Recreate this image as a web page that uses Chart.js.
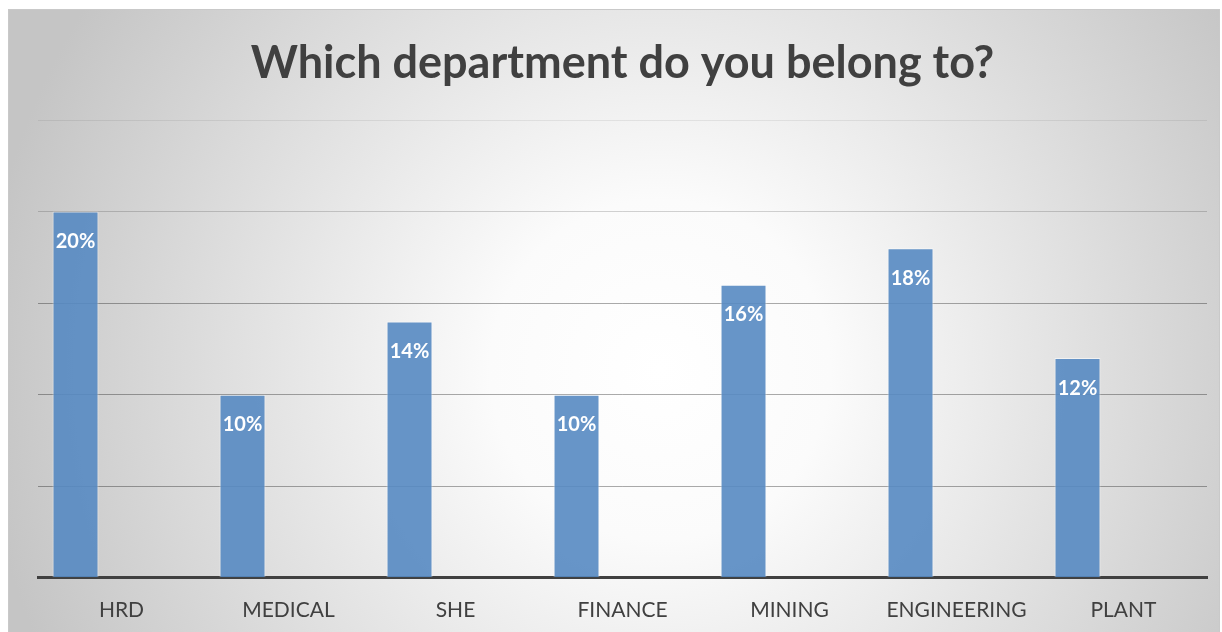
<!DOCTYPE html>
<html>
<head>
<meta charset="utf-8">
<title>Which department do you belong to?</title>
<script src="https://cdn.jsdelivr.net/npm/chart.js@4/dist/chart.umd.min.js"></script>
<style>
  html, body { margin: 0; padding: 0; background: #fff; }
  #wrap { width: 1222px; height: 632px; }
</style>
</head>
<body>
<div id="wrap"><canvas id="chart" width="1222" height="632"></canvas></div>
<script>
const categories = ['HRD', 'MEDICAL', 'SHE', 'FINANCE', 'MINING', 'ENGINEERING', 'PLANT'];
const shares = [20, 10, 14, 10, 16, 18, 12];
// two unused series slots, so bars sit left in each category group
const spareSeriesA = [];
const spareSeriesB = [];
const yTicks = [0, 5, 10, 15, 20, 25];

const textFont = 'Lato, "Open Sans", sans-serif';

const frameBackground = {
    id: 'frameBackground',
    beforeDraw(chart) {
        const ctx = chart.ctx;
        const w = chart.width;
        const h = chart.height;
        ctx.save();
        ctx.fillStyle = '#ffffff';
        ctx.fillRect(0, 0, w, h);
        const grad = ctx.createRadialGradient(660, 370, 0, 660, 370, 680);
        grad.addColorStop(0, '#ffffff');
        grad.addColorStop(0.25, '#fbfbfb');
        grad.addColorStop(1, '#c5c5c5');
        ctx.fillStyle = grad;
        ctx.fillRect(8, 9, 1212, h - 9);
        ctx.strokeStyle = '#c9c9c9';
        ctx.lineWidth = 1;
        ctx.strokeRect(8.5, 9.5, 1211, h);
        ctx.restore();
    }
};

const barLabels = {
    id: 'barLabels',
    afterDatasetsDraw(chart) {
        const ctx = chart.ctx;
        const meta = chart.getDatasetMeta(0);
        ctx.save();
        ctx.fillStyle = '#ffffff';
        ctx.font = 'bold 20px ' + textFont;
        ctx.textAlign = 'center';
        ctx.textBaseline = 'middle';
        meta.data.forEach((bar, i) => {
            ctx.fillText(shares[i] + '%', bar.x, bar.y + 30);
        });
        ctx.restore();
    }
};

const gridColor = (context) => {
    const v = context.tick ? context.tick.value : 0;
    if (v === 25) return 'rgba(0, 0, 0, 0.07)';
    if (v === 20) return 'rgba(0, 0, 0, 0.17)';
    return 'rgba(0, 0, 0, 0.33)';
};

new Chart(document.getElementById('chart'), {
    type: 'bar',
    data: {
        labels: categories,
        datasets: [
            {
                label: 'Share',
                data: shares,
                backgroundColor: 'rgba(86, 137, 194, 0.9)',
                borderColor: 'rgba(255, 255, 255, 0.55)',
                borderWidth: 1,
            },
            { label: 'A', data: spareSeriesA },
            { label: 'B', data: spareSeriesB },
        ],
    },
    options: {
        responsive: false,
        animation: false,
        devicePixelRatio: 1,
        layout: {
            padding: { left: 38, right: 15, top: 10, bottom: -11 },
        },
        datasets: {
            bar: {
                barPercentage: 1,
                categoryPercentage: 0.826,
            },
        },
        plugins: {
            legend: { display: false },
            tooltip: { enabled: false },
            title: {
                display: true,
                text: 'Which department do you belong to?',
                color: '#404040',
                font: { family: textFont, size: 45, weight: 'bold' },
                padding: { top: 26, bottom: 30 },
            },
        },
        scales: {
            x: {
                grid: { display: false, drawTicks: false },
                border: { display: true, color: '#404040', width: 3 },
                ticks: {
                    color: '#404040',
                    padding: 20,
                    font: { family: textFont, size: 21 },
                    maxRotation: 0,
                },
            },
            y: {
                min: yTicks[0],
                max: yTicks[yTicks.length - 1],
                ticks: { display: false, stepSize: yTicks[1] - yTicks[0] },
                border: { display: false },
                grid: { color: gridColor, lineWidth: 1, drawTicks: false },
            },
        },
    },
    plugins: [frameBackground, barLabels],
});
</script>
</body>
</html>
